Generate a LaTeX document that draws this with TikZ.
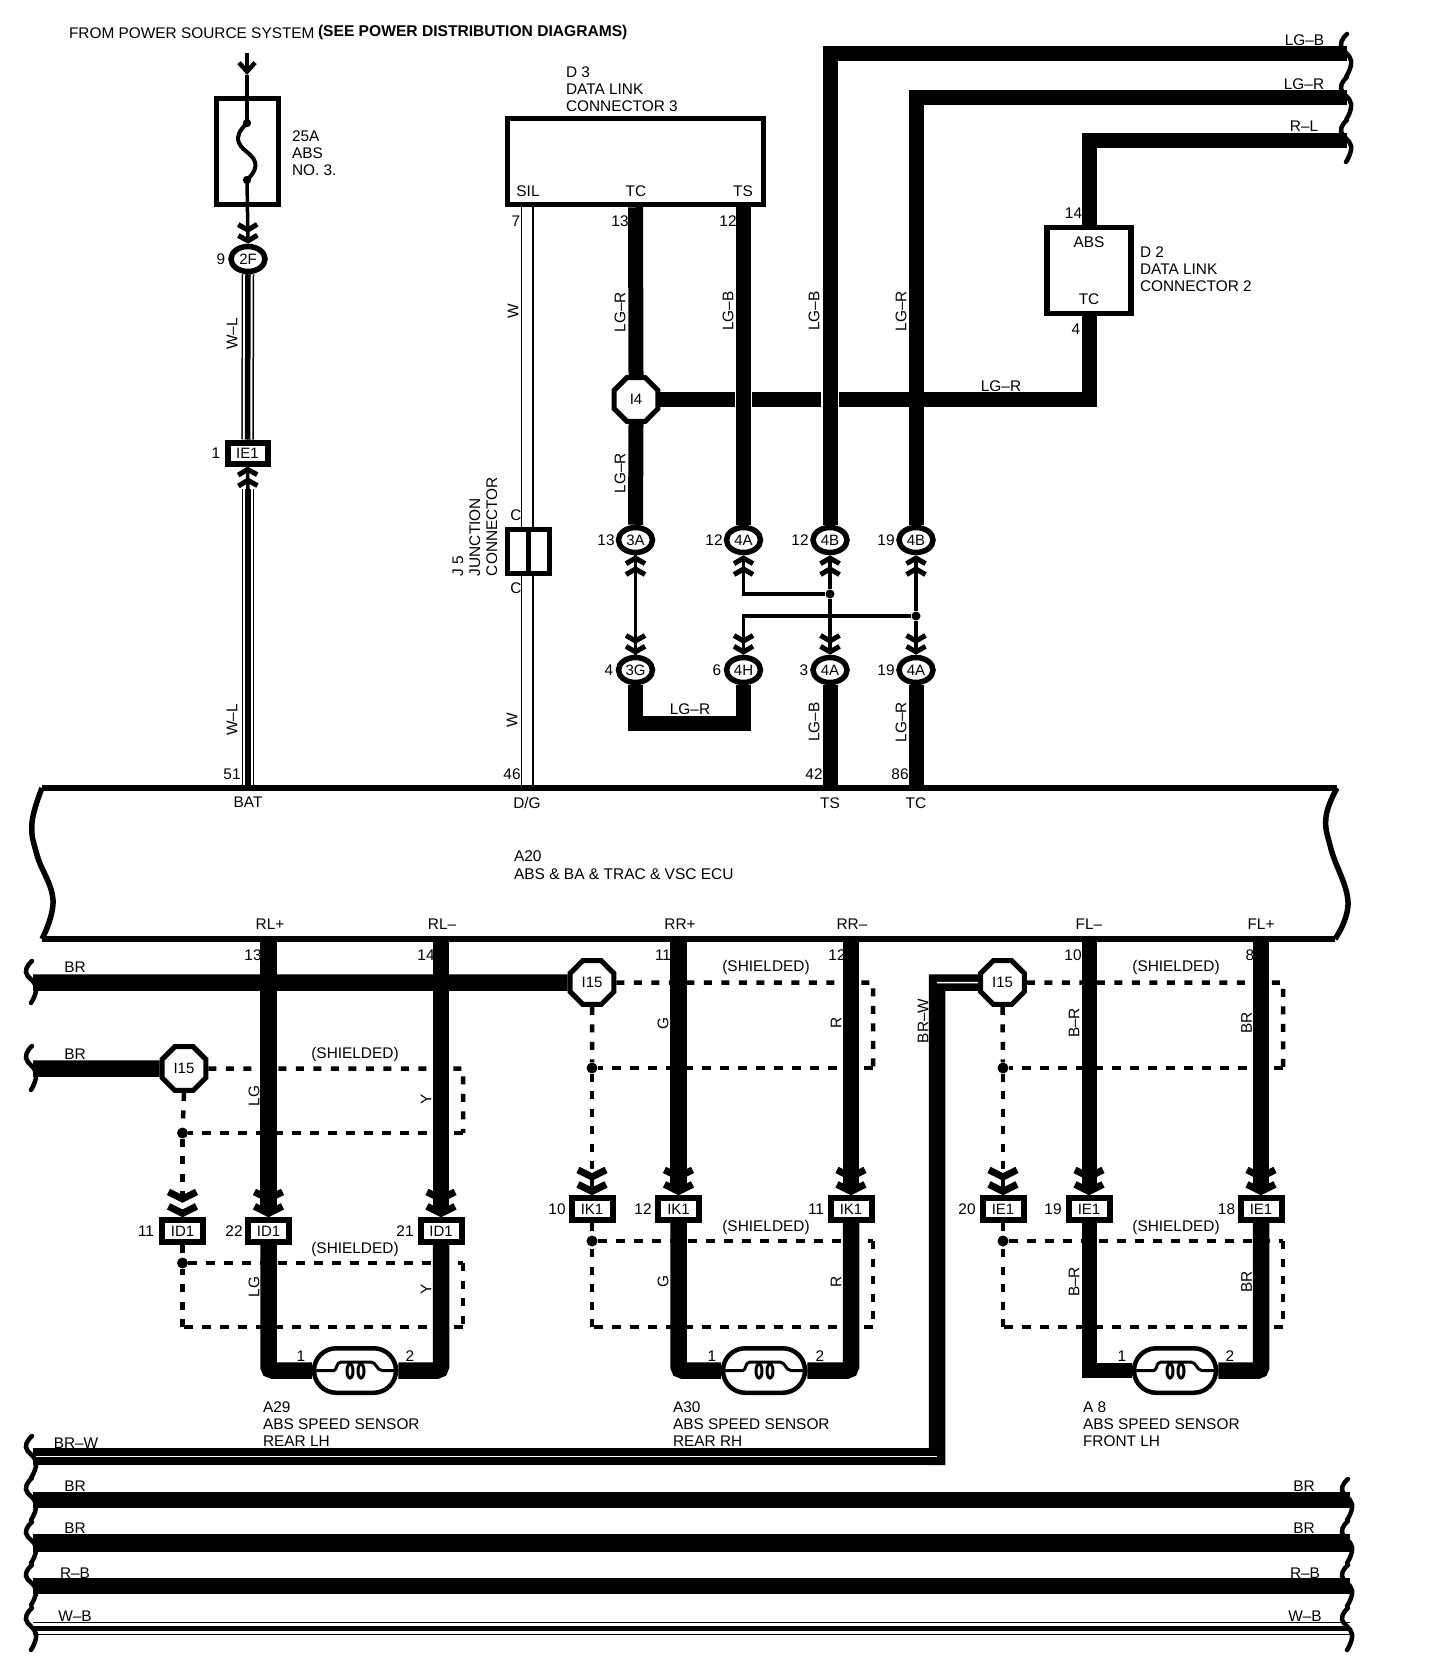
\documentclass[tikz,border=0pt]{standalone}
\usepackage{fontspec}
\setmainfont{Liberation Sans}
\usetikzlibrary{shapes.geometric,shapes.misc,arrows.meta,backgrounds}
\tikzset{
 txt/.style={font=\fontsize{15.4}{17}\selectfont,inner sep=0pt,outer sep=0pt,align=left},
 rot/.style={txt,rotate=90},
 conn/.style={ellipse,draw,line width=5.5pt,fill=white,inner sep=0pt,minimum width=34pt,minimum height=25pt,font=\fontsize{15}{15}\selectfont},
 splice/.style={regular polygon,regular polygon sides=8,draw,line width=5pt,fill=white,inner sep=0pt,minimum size=47.5pt,font=\fontsize{15}{15}\selectfont},
 jbox/.style={rectangle,draw,line width=6pt,fill=white,inner sep=0pt,minimum width=41pt,minimum height=21.5pt,font=\fontsize{15}{15}\selectfont},
 blockbox/.style={rectangle,draw,line width=5.5pt,inner sep=0pt},
 sensorbox/.style={rounded rectangle,draw,line width=4.5pt,fill=white,inner sep=0pt,minimum width=82pt,minimum height=44.5pt},
 dotn/.style={circle,fill=black,inner sep=0pt,minimum size=11pt},
 smalldot/.style={circle,fill=black,inner sep=0pt,minimum size=9pt},
 bigwire/.style={line width=16.5pt,line join=miter,draw=black},
 medwire/.style={line width=15pt,line join=miter,draw=black},
 halo/.style={preaction={draw,white,line width=17.5pt}},
 thinwire/.style={line width=3.5pt},
 whitewire/.style={line width=1.5pt,double=white,double distance=10pt},
 triple/.style={line width=5.5pt,preaction={draw,line width=12.5pt},preaction={draw,white,line width=9.5pt}},
 chevS/.style={-{Straight Barb[length=5.5pt,width=19pt,line width=5pt] Straight Barb[length=5.5pt,width=19pt,line width=5pt]}},
 chevL/.style={-{Straight Barb[length=7pt,width=28pt,line width=7pt] Straight Barb[length=7pt,width=28pt,line width=7pt]}},
 breakline/.style={line width=4.5pt,line cap=round},
 dashA/.style={line width=4.5pt,dash pattern=on 8pt off 9.5pt},
 dashB/.style={line width=3.5pt,dash pattern=on 9pt off 9pt},
 eculine/.style={line width=5.5pt,line join=round},
}
% x y height : one wavy break section
\newcommand{\brk}[3]{\draw[breakline] plot[smooth,tension=.8] coordinates {(#1+6,#2) (#1,#2+.27*#3) (#1+10,#2+.62*#3) (#1+5,#2+#3)};}
% prefix, splice, box, xRight, y1, y2, y3, y4, xLeft
\newcommand{\shieldset}[9]{%
 \coordinate (#1ra) at (#4,#5); \coordinate (#1rb) at (#4,#6);
 \coordinate (#1rc) at (#4,#7); \coordinate (#1rd) at (#4,#8);
 \coordinate (#1ld) at (#9,#8);
 \node[dotn] (#1up) at (#9,#6) {}; \node[dotn] (#1lo) at (#9,#7) {};
 \draw[dashA] (#2.east) -- (#1ra) -- (#1rb);
 \draw[dashB] (#1rb) -- (#1up);
 \draw[dashA] (#2.south) -- (#1up);
 \draw[dashA,chevL] (#1up) -- (#3.north);
 \draw[dashA] (#3.south) -- (#1lo);
 \draw[dashB] (#1lo) -- (#1rc);
 \draw[dashA] (#1rc) -- (#1rd);
 \draw[dashB] (#1rd) -- (#1ld);
 \draw[dashA] (#1ld) -- (#1lo);
}
% name, x
\newcommand{\sensor}[2]{%
 \node[sensorbox] (#1) at (#2,1370.5) {};
 \draw[line width=3pt,line join=round] (#1.west) -- (#2-21,1370.5) .. controls (#2-18,1370.5) and (#2-19,1362) .. (#2-14,1362) -- (#2+16,1362) .. controls (#2+21,1362) and (#2+22,1370.5) .. (#2+27,1370.5) -- (#1.east);
 \draw[line width=3pt] (#2-5,1371) ellipse (3pt and 7pt);
 \draw[line width=3pt] (#2+6,1371) ellipse (3pt and 7pt);
}
\begin{document}
\begin{tikzpicture}[x=1pt,y=-1pt]
\useasboundingbox (0,0) rectangle (1440,1664);
% title
\node[txt,anchor=west] (title) at (69,33) {FROM POWER SOURCE SYSTEM};
\node[txt,anchor=west,font=\fontsize{15.6}{17}\selectfont\bfseries] (title2) at (318,32) {(SEE POWER DISTRIBUTION DIAGRAMS)};
% fuse
\node[blockbox,minimum width=62pt,minimum height=106pt] (fuse) at (247.5,151.5) {};
\node[txt,anchor=west] (fuselab) at (292,153) {25A\\ABS\\NO. 3.};
\coordinate (src) at (247,53); \coordinate (srcm) at (247,75);
\coordinate (fuseA) at (247,123); \coordinate (fuseB) at (247,180);
\draw[line width=4pt] (fuseA) circle (2pt) (fuseB) circle (2pt);
\draw[line width=4pt] (fuseA) .. controls (240,130) and (236,136) .. (239,143) .. controls (243,152) and (256,155) .. (255.5,166) .. controls (255,172) and (250,177) .. (fuseB);
% connectors upper
\node[conn] (c2F) at (248,259) {2F};
\node[jbox,minimum width=40pt,minimum height=21pt] (ie1top) at (247.5,453) {IE1};
\node[splice] (i4) at (636,399.5) {I4};
\foreach \n/\x/\y/\t in {c3A/635.5/540/3A,c4A/743.5/540/4A,c4B/830/540/4B,c4Bb/916/540/4B,c3G/635.5/670/3G,c4H/743.5/670/4H,c4Ab/830/670/4A,c4Ac/916/670/4A}
  \node[conn] (\n) at (\x,\y) {\t};
\node[smalldot] (jA) at (830,594) {};
\node[smalldot] (jB) at (916,616) {};
% D3 D2 J5
\node[blockbox,minimum width=256pt,minimum height=86pt] (d3) at (635.5,161.5) {};
\node[blockbox,minimum width=84pt,minimum height=86pt] (d2) at (1089,270.5) {};
\node[rectangle,draw,line width=5pt,fill=white,minimum width=42pt,minimum height=44pt,inner sep=0pt] (j5) at (528.5,551.5) {};
\draw[line width=5pt] (j5.north) -- (j5.south);
% lower nodes
\node[splice] (i15a) at (184,1068.5) {I15};
\node[splice] (i15b) at (592,982.5) {I15};
\node[splice] (i15c) at (1002.5,982.5) {I15};
\node[jbox] (id1a) at (182.5,1231) {ID1};
\node[jbox] (id1b) at (268.5,1231) {ID1};
\node[jbox] (id1c) at (441,1231) {ID1};
\node[jbox] (ik1a) at (592,1209) {IK1};
\node[jbox] (ik1b) at (678.5,1209) {IK1};
\node[jbox] (ik1c) at (851,1209) {IK1};
\node[jbox] (ie1a) at (1003,1209) {IE1};
\node[jbox] (ie1b) at (1089,1209) {IE1};
\node[jbox] (ie1c) at (1261,1209) {IE1};
\sensor{sa}{355}
\sensor{sb}{764}
\sensor{sc}{1175}
% ECU
\coordinate (ecuT) at (0,788); \coordinate (ecuB) at (0,939);
\draw[eculine] plot[smooth,tension=.7] coordinates {(42,788) (32,823) (37,855) (53,900) (42,939)};
\draw[eculine] plot[smooth,tension=.7] coordinates {(1337,788) (1326,817) (1331,849) (1348,902) (1335,939)};
\draw[eculine] (42,788) -- (1337,788);
\draw[eculine] (42,939) -- (1335,939);
\node[txt,anchor=west,font=\fontsize{15.5}{18}\selectfont] (ecutext) at (514,865.5) {A20\\ABS \& BA \& TRAC \& VSC ECU};
% break marks
\brk{1341}{34}{43}\brk{1341}{77}{43}\brk{1341}{120}{42}
\brk{26}{961}{42}\brk{26}{1046}{44}
\brk{26}{1436}{42}\brk{26}{1478}{42}\brk{26}{1522}{41}\brk{26}{1565}{40}\brk{26}{1608}{42}
\brk{1342}{1479}{41}\brk{1342}{1521}{42}\brk{1342}{1565}{41}\brk{1342}{1608}{42}
% named free ends
\coordinate (rLGB) at (1347,54); \coordinate (rLGR) at (1347,98); \coordinate (rRL) at (1347,141);
\coordinate (lBRa) at (33,982.5); \coordinate (lBRb) at (33,1068.5);
\coordinate (lBRW) at (33,1456.5); \coordinate (cBRW) at (937,1456.5); \coordinate (tBRW) at (937,982.5);
\coordinate (lBR1) at (33,1500); \coordinate (rBR1) at (1350,1500);
\coordinate (lBR2) at (33,1543); \coordinate (rBR2) at (1350,1543);
\coordinate (lRB) at (33,1586); \coordinate (rRB) at (1350,1586);
\coordinate (lWB) at (33,1628.5); \coordinate (rWB) at (1350,1628.5);
\coordinate (batm) at (248,489);
\coordinate (rowjA) at (743.5,594); \coordinate (rowjB) at (743.5,616);
\begin{scope}[on background layer]
 \fill[white] (0,0) rectangle (1440,1664);
 % source and fuse
 \draw[thinwire,-{Straight Barb[length=9pt,width=16pt,line width=4.5pt]}] (src) -- (srcm);
 \draw[thinwire] (srcm) -- (fuseA);
 \draw[thinwire,chevS] (fuseB) -- (c2F.north);
 \draw[triple] (c2F.south) -- (ie1top.north);
 \draw[triple] (batm) -- (248,788);
 \draw[thinwire,chevS] (batm) -- (ie1top.south);
 % white wire
 \draw[whitewire] (527,207) -- (527,788);
 % shields
 \shieldset{sa}{i15a}{id1a}{463}{1068.5}{1133}{1263}{1327}{182.5}
 \shieldset{sb}{i15b}{ik1a}{873}{982.5}{1068}{1241}{1327}{592}
 \shieldset{sc}{i15c}{ie1a}{1283}{982.5}{1068}{1241}{1327}{1003}
 % data link horizontal first
 \draw[medwire] (i4.east) -| (d2.south);
 \draw[medwire] (c3A |- d3.south) -- (i4.north);
 \draw[medwire] (i4.south) -- (c3A.north);
 \draw[medwire,halo] (c4A |- d3.south) -- (c4A.north);
 \draw[medwire,halo] (rLGB) -| (c4B.north);
 \draw[medwire] (rLGR) -| (c4Bb.north);
 \draw[medwire] (rRL) -| (d2.north);
 % small harness
 \draw[thinwire,chevS] (c3G.north) -- (c3A.south);
 \draw[thinwire,chevS] (c3A.south) -- (c3G.north);
 \draw[thinwire,chevS] (jA) -- (rowjA) -- (c4A.south);
 \draw[thinwire,chevS] (jB) -- (rowjB) -- (c4H.north);
 \draw[thinwire,chevS] (jA) -- (c4B.south);
 \draw[thinwire,chevS] (jA) -- (c4Ab.north);
 \draw[thinwire,chevS] (jB) -- (c4Bb.south);
 \draw[thinwire,chevS] (jB) -- (c4Ac.north);
 \draw[medwire] (c3G.south) |- (735,723.5) -| (c4H.south);
 \draw[medwire] (c4Ab.south) -- (c4Ab |- ecuT);
 \draw[medwire] (c4Ac.south) -- (c4Ac |- ecuT);
 % BR wires
 \draw[bigwire] (lBRa) -- (i15b.west);
 \draw[bigwire] (lBRb) -- (i15a.west);
 % RL
 \draw[bigwire,chevL] (id1b |- ecuB) -- (id1b.north);
 \draw[bigwire,chevL] (id1c |- ecuB) -- (id1c.north);
 \draw[bigwire,rounded corners=4pt] (id1b.south) |- (sa.west);
 \draw[bigwire,rounded corners=4pt] (id1c.south) |- (sa.east);
 % RR
 \draw[bigwire,chevL] (ik1b |- ecuB) -- (ik1b.north);
 \draw[bigwire,chevL] (ik1c |- ecuB) -- (ik1c.north);
 \draw[bigwire,rounded corners=4pt] (ik1b.south) |- (sb.west);
 \draw[bigwire,rounded corners=4pt] (ik1c.south) |- (sb.east);
 % FL
 \draw[medwire,chevL] (ie1b |- ecuB) -- (ie1b.north);
 \draw[bigwire,chevL] (ie1c |- ecuB) -- (ie1c.north);
 \draw[medwire] (ie1b.south) |- (sc.west);
 \draw[bigwire,rounded corners=3pt] (ie1c.south) |- (sc.east);
 % BR-W
 \draw[bigwire] (i15c.west) -- (tBRW) -- (cBRW |- 0,1465);
 \draw[bigwire] (lBRW) -- (945,1456.5);
 \draw[white,line width=1.5pt] (lBRW) -- (cBRW);
 \draw[white,line width=1.5pt] (tBRW) -- (i15c.west);
 % bottom buses
 \draw[line width=16.5pt] (lBR1) -- (rBR1);
 \draw[line width=18pt] (lBR2) -- (rBR2);
 \draw[line width=16.5pt] (lRB) -- (rRB);
 \draw[line width=5pt,preaction={draw,line width=13.5pt},preaction={draw,white,line width=10.5pt}] (lWB) -- (rWB);
\end{scope}
% text labels
\node[txt,anchor=west] (d3lab) at (566,89) {D 3\\DATA LINK\\CONNECTOR 3};
\node[txt] (tSIL) at (528,191) {SIL};
\node[txt] (tTC) at (636,191) {TC};
\node[txt] (tTS) at (743,191) {TS};
\node[txt,anchor=west] (d2lab) at (1140,269) {D 2\\DATA LINK\\CONNECTOR 2};
\node[txt] (tABS) at (1089,242) {ABS};
\node[txt] (tTC2) at (1089,299) {TC};
\node[rot,anchor=west,align=left] (j5lab) at (475,576) {J 5\\JUNCTION\\CONNECTOR};
\foreach \i/\x/\y/\t in {
 a/221/259/9, b/216/453/1, c/232/774/51, d/516/221/7, e/620/221/13, f/728/221/12,
 g/1073.5/213/14, h/1076/329/4, i/512/774/46, j/814/774/42, k/900/774/86,
 l/606/540/13, m/714/540/12, n/800/540/12, o/886/540/19,
 p/609/670/4, q/717/670/6, r/804/670/3, s/886/670/19,
 t/516/515/C, u/516/588/C,
 v/253/955/13, w/426/955/14, x/663/955/11, y/837/955/12, z/1073/955/10, A/1250/955/8,
 B/146/1231/11, C/234/1231/22, D/405/1231/21, E/557/1209/10, F/643/1209/12, G/816/1209/11,
 H/967/1209/20, I/1053/1209/19, J/1226.5/1209/18,
 K/301/1356/1, L/410/1356/2, M/712/1356/1, N/820/1356/2, O/1122/1356/1, P/1230/1356/2}
  \node[txt] (pin\i) at (\x,\y) {\t};
\foreach \i/\x/\y/\t in {
 a/248/802/BAT, b/527/803/{D/G}, c/830/803/TS, d/916/803/TC,
 e/270/924/RL+, f/442/924/RL–, g/680/924/RR+, h/852/924/RR–, i/1089/924/FL–, j/1261/924/FL+,
 k/1304.5/40/LG–B, l/1304/84/LG–R, m/1304/126/R–L, n/1001/386/LG–R, o/690/709/LG–R,
 p/75/967/BR, q/75/1054/BR, r/76/1443/BR–W, s/75/1486/BR, t/75/1528/BR, u/75/1573/R–B, v/75/1616/W–B,
 w/1304/1486/BR, x/1304/1528/BR, y/1305/1573/R–B, z/1305/1616/W–B,
 A/355/1055/(SHIELDED), B/355/1249/(SHIELDED), C/766/968/(SHIELDED), D/766/1227/(SHIELDED), E/1176/968/(SHIELDED), F/1176/1227/(SHIELDED)}
  \node[txt] (wl\i) at (\x,\y) {\t};
\foreach \i/\x/\y/\t in {
 a/232/334/W–L, b/232/720/W–L, c/513/311/W, d/512/720/W, e/620/312/LG–R, f/620/473/LG–R,
 g/728/311/LG–B, h/814/311/LG–B, i/901/311/LG–R, j/814/722/LG–B, k/901/722/LG–R,
 l/254/1096/LG, m/254/1287/LG, n/426/1099/Y, o/426/1289/Y,
 p/663/1023/G, q/663/1281/G, r/836/1023/R, s/836/1282/R,
 t/1074/1023/B–R, u/1074/1282/B–R, v/1246.5/1023/BR, w/1246.5/1282/BR, x/923/1021/BR–W}
  \node[rot] (rl\i) at (\x,\y) {\t};
\node[txt,anchor=north west] (sla) at (263,1401.5) {A29\\ABS SPEED SENSOR\\REAR LH};
\node[txt,anchor=north west] (slb) at (673,1401.5) {A30\\ABS SPEED SENSOR\\REAR RH};
\node[txt,anchor=north west] (slc) at (1083,1401.5) {A 8\\ABS SPEED SENSOR\\FRONT LH};
\end{tikzpicture}
\end{document}
